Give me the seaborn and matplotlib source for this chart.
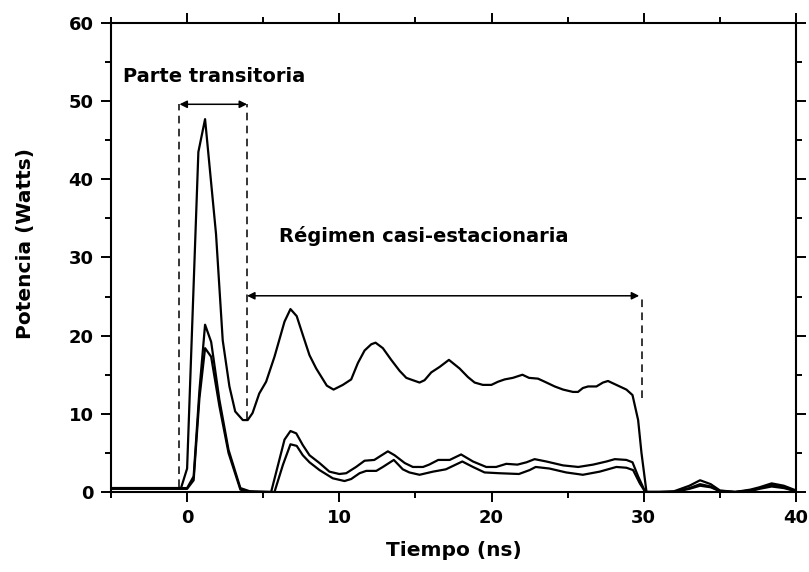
import matplotlib
matplotlib.use("Agg")
import matplotlib.pyplot as plt
from matplotlib.ticker import MultipleLocator
import seaborn as sns
import numpy as np

# ---------------- data ----------------
t_top = [-5, -4, -3, -2, -1, -0.4, 0.0, 0.74, 1.18, 1.9, 2.34, 2.78, 3.16, 3.66, 3.98,
         4.3, 4.74, 5.19, 5.74, 6.4, 6.79, 7.2, 7.6, 8.04, 8.48, 9.18, 9.62, 10.23,
         10.78, 11.22, 11.66, 12.1, 12.38, 12.86, 13.41, 13.96, 14.4, 14.83, 15.27,
         15.6, 16.04, 16.59, 17.2, 17.9, 18.45, 18.89, 19.43, 19.99, 20.42, 20.86,
         21.4, 22.03, 22.46, 23.05, 23.5, 24.15, 24.7, 25.35, 25.68, 26.0, 26.34,
         26.89, 27.32, 27.65, 28.09, 28.53, 28.86, 29.26, 29.63, 29.85, 30.18, 31.0,
         32.0, 33.0, 33.7, 34.4, 35.0, 36.0, 37.0, 37.6, 38.4, 39.2, 40.0]
p_top = [0.5, 0.5, 0.5, 0.5, 0.5, 0.5, 3.0, 43.5, 47.7, 33.0, 19.4, 13.5, 10.3, 9.2, 9.2,
         10.1, 12.6, 14.1, 17.3, 21.8, 23.4, 22.5, 20.1, 17.5, 15.8, 13.6, 13.1, 13.7,
         14.4, 16.5, 18.1, 18.9, 19.1, 18.4, 16.9, 15.5, 14.6, 14.3, 14.0,
         14.3, 15.3, 16.0, 16.9, 15.8, 14.7, 14.0, 13.7, 13.7, 14.1, 14.4,
         14.6, 15.0, 14.6, 14.5, 14.1, 13.5, 13.1, 12.8, 12.8, 13.3, 13.5,
         13.5, 14.0, 14.2, 13.8, 13.4, 13.1, 12.4, 9.2, 5.0, 0.0, 0.0,
         0.1, 0.8, 1.5, 1.0, 0.2, 0.0, 0.3, 0.6, 1.1, 0.8, 0.2]

t_mid = [-5, -4, -3, -2, -1, -0.4, 0.0, 0.43, 0.81, 1.18, 1.58, 2.12, 2.72, 3.5, 4.1,
         5.52, 6.4, 6.79, 7.17, 7.6, 8.04, 8.7, 9.35, 10.0, 10.45, 11.1, 11.66, 12.3,
         12.7, 13.19, 13.63, 14.3, 14.83, 15.5, 15.9, 16.5, 17.25, 18.0, 18.78, 19.65,
         20.3, 20.97, 21.7, 22.3, 22.83, 23.6, 24.7, 25.7, 26.67, 27.55, 28.1, 28.86,
         29.26, 29.63, 30.1, 31.0, 32.0, 33.0, 33.7, 34.4, 35.0, 36.0, 37.0, 37.6,
         38.4, 39.2, 40.0]
p_mid = [0.5, 0.5, 0.5, 0.5, 0.5, 0.5, 0.5, 2.0, 13.0, 21.4, 19.2, 11.8, 5.4, 0.5, 0.1,
         0.0, 6.7, 7.8, 7.5, 6.0, 4.7, 3.7, 2.6, 2.3, 2.4, 3.2, 4.0, 4.1,
         4.6, 5.2, 4.7, 3.7, 3.2, 3.2, 3.5, 4.1, 4.1, 4.8, 3.9, 3.2,
         3.2, 3.6, 3.5, 3.8, 4.2, 3.9, 3.4, 3.2, 3.5, 3.9, 4.2, 4.1,
         3.8, 2.0, 0.0, 0.0, 0.0, 0.5, 1.0, 0.7, 0.1, 0.0, 0.2, 0.5,
         0.9, 0.6, 0.1]

t_bot = [-5, -4, -3, -2, -1, -0.4, 0.0, 0.43, 0.81, 1.18, 1.58, 2.12, 2.72, 3.5, 4.1,
         5.74, 6.3, 6.79, 7.2, 7.6, 8.04, 8.7, 9.57, 10.34, 10.78, 11.33, 11.77, 12.43,
         12.86, 13.58, 14.17, 14.6, 15.27, 16.15, 17.0, 18.08, 18.78, 19.54, 20.5,
         21.8, 22.5, 22.9, 23.8, 24.9, 26.0, 27.1, 28.2, 28.86, 29.3, 29.74, 30.1,
         31.0, 32.0, 33.0, 33.7, 34.4, 35.0, 36.0, 37.0, 37.6, 38.4, 39.2, 40.0]
p_bot = [0.4, 0.4, 0.4, 0.4, 0.4, 0.4, 0.4, 1.5, 12.0, 18.4, 17.3, 11.0, 5.0, 0.3, 0.0,
         0.0, 3.5, 6.1, 5.9, 4.7, 3.8, 2.8, 1.75, 1.4, 1.66, 2.4, 2.7, 2.7,
         3.2, 4.1, 2.9, 2.5, 2.2, 2.6, 2.9, 3.9, 3.2, 2.5, 2.4,
         2.3, 2.8, 3.2, 3.0, 2.5, 2.2, 2.6, 3.2, 3.1, 2.8, 1.1, 0.0,
         0.0, 0.0, 0.4, 0.8, 0.6, 0.1, 0.0, 0.1, 0.4, 0.7, 0.5, 0.1]

x_ticks = [0, 10, 20, 30, 40]
y_ticks = [0, 10, 20, 30, 40, 50, 60]
label_transitoria = "Parte transitoria"
label_regimen = "Régimen casi-estacionaria"
xlabel = "Tiempo (ns)"
ylabel = "Potencia (Watts)"

# ---------------- figure ----------------
sns.set_theme(style="ticks", rc={"text.color": "black", "axes.labelcolor": "black",
                                 "xtick.color": "black", "ytick.color": "black",
                                 "axes.edgecolor": "black"})
plt.rcParams["font.family"] = ["DejaVu Sans"]
plt.rcParams["font.weight"] = "bold"

fig = plt.figure(figsize=(8.09, 5.72), dpi=100)
ax = fig.add_axes([0.1372, 0.1399, 0.8467, 0.8199])

for t, p in [(t_top, p_top), (t_mid, p_mid), (t_bot, p_bot)]:
    sns.lineplot(x=t, y=p, color="black", lw=1.6, ax=ax, sort=False,
                 estimator=None)

ax.set_xlim(-5, 40)
ax.set_ylim(0, 60)
ax.set_xticks(x_ticks)
ax.set_yticks(y_ticks)
ax.xaxis.set_minor_locator(MultipleLocator(5))
ax.yaxis.set_minor_locator(MultipleLocator(5))
ax.tick_params(which="both", direction="out", top=True, right=True,
               width=1.4, color="black", labelcolor="black")
ax.tick_params(which="major", length=7.5, pad=5, labelsize=13)
ax.tick_params(which="minor", length=4)
for lab in ax.get_xticklabels() + ax.get_yticklabels():
    lab.set_fontweight("bold")
for s in ax.spines.values():
    s.set_linewidth(1.5)
    s.set_color("black")

ax.set_xlabel(xlabel, fontsize=14.5, fontweight="bold", color="black")
ax.set_ylabel(ylabel, fontsize=14.5, fontweight="bold", color="black")
ax.xaxis.set_label_coords(0.5, -0.105)
ax.yaxis.set_label_coords(-0.111, 0.53)

# annotations
ax.text(-4.19, 52.4, label_transitoria, fontsize=14, fontweight="bold",
        ha="left", va="baseline", color="black")
ax.text(6.07, 32.0, label_regimen, fontsize=14, fontweight="bold",
        ha="left", va="baseline", color="black")

dash = dict(color="black", lw=1.1, ls=(0, (5, 3.5)))
ax.plot([-0.5, -0.5], [0.6, 49.6], **dash)
ax.plot([3.94, 3.94], [9.4, 49.6], **dash)
ax.plot([29.9, 29.9], [12.0, 25.1], **dash)

arrow = dict(arrowstyle="<|-|>", color="black", lw=1.1, mutation_scale=11,
             shrinkA=0, shrinkB=0)
ax.annotate("", xy=(3.94, 49.6), xytext=(-0.5, 49.6), arrowprops=arrow)
ax.annotate("", xy=(29.7, 25.1), xytext=(3.94, 25.1), arrowprops=arrow)

fig.savefig("out.png", dpi=100)
